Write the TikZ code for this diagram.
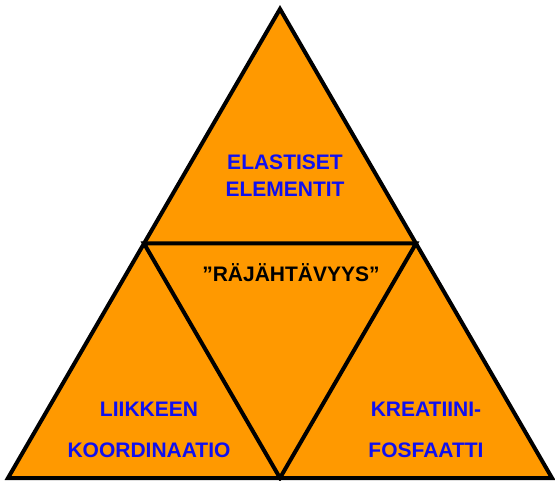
\documentclass[tikz,border=0pt]{standalone}
\usepackage{fontspec}
\setmainfont{Liberation Sans}
\definecolor{triorange}{HTML}{FF9900}
\definecolor{txtblue}{HTML}{1010F0}
\begin{document}
\begin{tikzpicture}[x=1pt,y=-1pt,
  edge/.style={draw=black,line width=4pt,line join=miter},
  lbl/.style={anchor=base,inner sep=0pt,font=\fontsize{21}{25}\selectfont\bfseries,text=txtblue},
  mlbl/.style={lbl,text=black}]
\useasboundingbox (0,0) rectangle (555,481);
\coordinate (A) at (280,9);
\coordinate (B) at (8,478);
\coordinate (C) at (552,478);
\coordinate (L) at (144,243.5);
\coordinate (R) at (416,243.5);
\coordinate (M) at (280,478);
\filldraw[edge,fill=triorange] (A) -- (B) -- (C) -- cycle;
\draw[edge] (L) -- (R) -- (M) -- cycle;
\node[lbl] (e1) at (285,170) {ELASTISET};
\node[lbl] (e2) at (285,197) {ELEMENTIT};
\node[mlbl] (r) at (291,282) {”RÄJÄHTÄVYYS”};
\node[lbl] (l1) at (149,417) {LIIKKEEN};
\node[lbl] (l2) at (149,457) {KOORDINAATIO};
\node[lbl] (k1) at (426,417) {KREATIINI-};
\node[lbl] (k2) at (426,457) {FOSFAATTI};
\end{tikzpicture}
\end{document}
